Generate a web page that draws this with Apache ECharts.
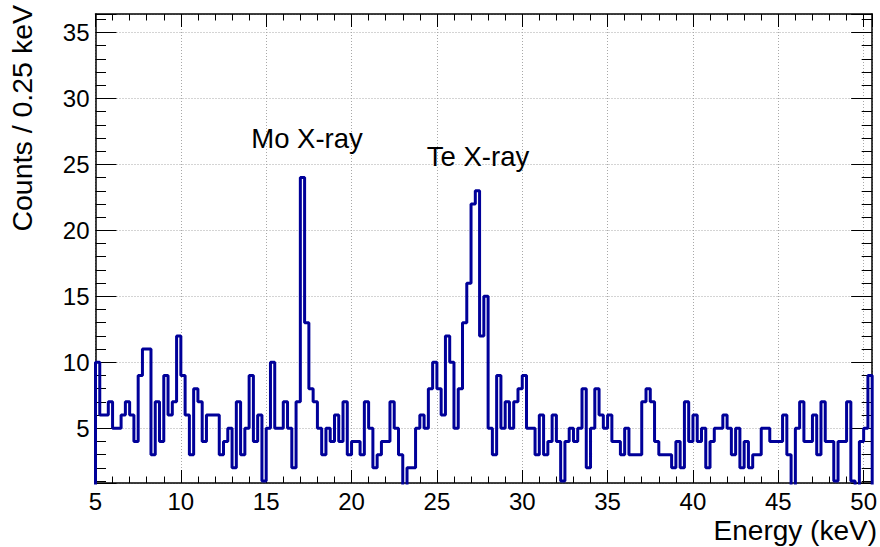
<!DOCTYPE html>
<html><head><meta charset="utf-8">
<script src="https://cdn.jsdelivr.net/npm/echarts@6/dist/echarts.min.js"></script>
<style>html,body{margin:0;padding:0;background:#fff}#c{width:880px;height:547px}</style>
</head><body><div id="c"></div>
<script>
// Histogram: 0.25 keV bins from 5.0 to 50.5 keV
const binStart = 5.0;
const binWidth = 0.25;
const counts = [
  10,6,6,7,5,5,6,7,6,4, 9,11,11,3,7,4,9,6,7,12,
  9,6,3,8,7,4,6,6,6,3, 4,5,2,7,3,5,9,4,6,1,
  5,10,5,5,7,5,2,7,24,13, 8,7,5,3,5,4,6,4,7,3,
  4,4,3,7,5,2,3,4,4,7, 5,3,0,2,2,5,6,5,8,10,
  8,6,12,10,5,8,13,16,22,23, 12,15,5,3,9,5,7,5,7,8,
  9,5,5,3,6,3,4,6,4,1, 4,5,4,5,8,2,5,8,6,5,
  6,4,4,3,5,3,3,3,7,8, 7,4,3,3,3,2,4,2,7,4,
  6,4,5,2,4,5,5,6,5,3, 5,2,4,2,3,3,5,5,4,4,
  4,6,3,0,5,7,4,4,6,3, 7,4,4,1,4,4,7,1,0,4,
  5,9
];
const xTickLabels = [5,10,15,20,25,30,35,40,45,50];
const yTickLabels = [5,10,15,20,25,30,35];
const xTitle = 'Energy (keV)';
const yTitle = 'Counts / 0.25 keV';
const peakLabels = ['Mo X-ray', 'Te X-ray'];

const xMin = binStart, xMax = binStart + counts.length * binWidth;
const stepData = [[xMin, 0]];
counts.forEach((c, i) => stepData.push([binStart + i * binWidth, c]));
stepData.push([xMax, counts[counts.length - 1]]);
stepData.push([xMax, 0]);

const FONT = "'Liberation Sans', Arial, Helvetica, sans-serif";
const black = '#000';
const axisLine = {show: true, onZero: false, lineStyle: {color: black, width: 1.5}};

function xAx(pos, labels) {
  return {
    type: 'value', min: xMin, max: xMax, interval: 5, position: pos,
    axisLine: axisLine,
    axisTick: {show: true, inside: true, length: 13, lineStyle: {color: black, width: 1}},
    minorTick: {show: true, splitNumber: 5, length: 6.5, lineStyle: {color: black, width: 1}},
    splitLine: {show: labels, lineStyle: {color: '#a8a8a8', type: [1, 2], width: 1}},
    minorSplitLine: {show: false},
    axisLabel: {show: labels, margin: 6, fontSize: 24, color: black, fontFamily: FONT,
      formatter: v => xTickLabels.includes(Math.round(v * 1000) / 1000) ? String(Math.round(v)) : ''}
  };
}
function yAx(pos, labels) {
  return {
    type: 'value', min: 0.85, max: 36.4, splitNumber: 7, position: pos,
    axisLine: axisLine,
    axisTick: {show: true, inside: true, length: 21, lineStyle: {color: black, width: 1}},
    minorTick: {show: true, splitNumber: 5, length: 10.5, lineStyle: {color: black, width: 1}},
    splitLine: {show: labels, lineStyle: {color: '#a8a8a8', type: [1, 2], width: 1}},
    axisLabel: {show: labels, margin: 6, fontSize: 24, color: black, fontFamily: FONT,
      formatter: v => yTickLabels.includes(Math.round(v * 1000) / 1000) ? String(Math.round(v)) : ''}
  };
}

const chart = echarts.init(document.getElementById('c'), null, {renderer: 'svg', width: 880, height: 547});
chart.setOption({
  animation: false,
  backgroundColor: '#fff',
  grid: {left: 95.5, right: 3.5, top: 14, bottom: 64, containLabel: false},
  xAxis: [xAx('bottom', true), xAx('top', false)],
  yAxis: [yAx('left', true), yAx('right', false)],
  series: [{
    type: 'line', step: 'end', data: stepData, xAxisIndex: 0, yAxisIndex: 0,
    symbol: 'none', clip: true,
    lineStyle: {color: '#000099', width: 3},
    z: 5
  }],
  graphic: [
    {type: 'text', x: 307, y: 138, z: 10,
     style: {text: peakLabels[0], fontSize: 27.5, fontFamily: FONT, fill: black, align: 'center', verticalAlign: 'middle'}},
    {type: 'text', x: 478, y: 156, z: 10,
     style: {text: peakLabels[1], fontSize: 27.5, fontFamily: FONT, fill: black, align: 'center', verticalAlign: 'middle'}},
    {type: 'text', x: 877, y: 530, z: 10,
     style: {text: xTitle, fontSize: 28, fontFamily: FONT, fill: black, align: 'right', verticalAlign: 'middle'}},
    {type: 'text', x: 22, y: 5, rotation: Math.PI / 2, z: 10,
     style: {text: yTitle, fontSize: 28.5, fontFamily: FONT, fill: black, align: 'right', verticalAlign: 'middle'}}
  ]
});
</script></body></html>
